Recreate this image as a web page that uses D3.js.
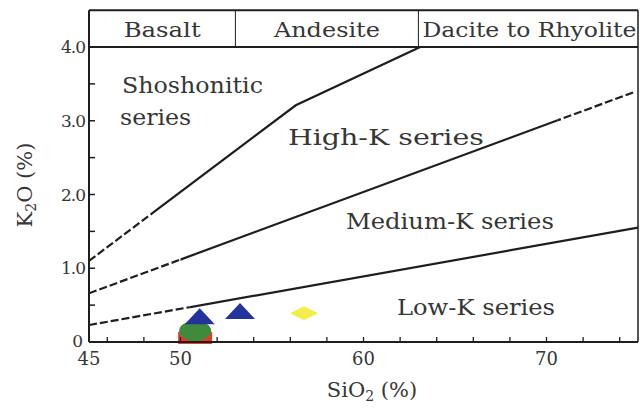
<!DOCTYPE html>
<html>
<head>
<meta charset="utf-8">
<script src="https://cdn.jsdelivr.net/npm/d3@7"></script>
<style>
  html, body { margin: 0; padding: 0; background: #fff; }
  svg { display: block; }
  text { font-family: "DejaVu Serif", "Liberation Serif", serif; fill: #363636; }
</style>
</head>
<body>
<svg id="chart" width="640" height="415"></svg>
<script>
// Rock-type bands along the SiO2 axis (header row)
const rockTypes = ["Basalt", "Andesite", "Dacite to Rhyolite"];
const rockBounds = [45, 53, 63, 75];

// Series boundary lines, as [SiO2, K2O] vertices
const shoshoniticLine = [[45, 1.10], [56.3, 3.21], [63.1, 4.0]];
const highKLine = [[45, 0.66], [74.8, 3.39]];
const mediumKLine = [[45, 0.23], [75, 1.55]];

// Series field names
const seriesNames = ["Shoshonitic", "series", "High-K series", "Medium-K series", "Low-K series"];

// Samples
const squareSamples = [[50.8, 0.055]];
const circleSamples = [[50.8, 0.15]];
const triangleSamples = [[51.05, 0.35], [53.25, 0.42]];
const diamondSamples = [[56.75, 0.39]];

// Tick values
const xMinorTicks = [46, 48, 50, 52, 54, 56, 58, 60, 62, 64, 66, 68, 70, 72, 74];
const xTickLabels = [45, 50, 60, 70];
const yMinorTicks = [0.5, 1.0, 1.5, 2.0, 2.5, 3.0, 3.5, 4.0];
const yTickLabels = ["0", "1.0", "2.0", "3.0", "4.0"];

const svg = d3.select("#chart");
const x = d3.scaleLinear().domain([45, 75]).range([89, 638]);
const y = d3.scaleLinear().domain([0, 4]).range([342, 47]);
const ink = "#1e1e1e";

// ---- sample markers (drawn under the frame) ----
const markers = svg.append("g");
markers.selectAll("rect.sq").data(squareSamples).join("rect")
  .attr("x", d => x(d[0]) - 17).attr("y", d => y(d[1]) - 6)
  .attr("width", 34).attr("height", 12)
  .attr("fill", "#e23a2e");
markers.selectAll("ellipse").data(circleSamples).join("ellipse")
  .attr("cx", d => x(d[0])).attr("cy", d => y(d[1]))
  .attr("rx", 16).attr("ry", 10)
  .attr("fill", "#3f8a3c");
markers.selectAll("path.tri").data(triangleSamples).join("path")
  .attr("d", "M0,-8L15,8L-15,8Z")
  .attr("transform", d => `translate(${x(d[0])},${y(d[1])})`)
  .attr("fill", "#23339c");
markers.selectAll("path.dia").data(diamondSamples).join("path")
  .attr("d", "M-14,0L0,-7L14,0L0,7Z")
  .attr("transform", d => `translate(${x(d[0])},${y(d[1])})`)
  .attr("fill", "#f4ee4c");

// ---- boundary lines: solid in the middle, dashed near the ends ----
const defs = svg.append("defs");
function clip(id, spans) {
  const c = defs.append("clipPath").attr("id", id);
  spans.forEach(s => c.append("rect")
    .attr("x", x(s[0])).attr("y", 0)
    .attr("width", x(s[1]) - x(s[0])).attr("height", 415));
}
const lineGen = d3.line().x(d => x(d[0])).y(d => y(d[1]));
const boundaries = [
  { pts: shoshoniticLine, dashed: [[45, 48.6]], solid: [[48.6, 75]] },
  { pts: highKLine, dashed: [[45, 50.0], [70.6, 75]], solid: [[50.0, 70.6]] },
  { pts: mediumKLine, dashed: [[45, 50.5]], solid: [[50.5, 75]] }
];
boundaries.forEach((b, i) => {
  clip("cd" + i, b.dashed);
  clip("cs" + i, b.solid);
  svg.append("path").attr("d", lineGen(b.pts))
    .attr("fill", "none").attr("stroke", ink).attr("stroke-width", 2.2)
    .attr("stroke-dasharray", "8,3").attr("clip-path", `url(#cd${i})`);
  svg.append("path").attr("d", lineGen(b.pts))
    .attr("fill", "none").attr("stroke", ink).attr("stroke-width", 2.2)
    .attr("clip-path", `url(#cs${i})`);
});

// ---- frame and header ----
const headerTop = y(4.5);
svg.append("line").attr("x1", x(45)).attr("x2", x(75)).attr("y1", headerTop).attr("y2", headerTop)
  .attr("stroke", ink).attr("stroke-width", 2);
svg.append("line").attr("x1", x(45)).attr("x2", x(75)).attr("y1", y(4)).attr("y2", y(4))
  .attr("stroke", ink).attr("stroke-width", 2);
svg.append("line").attr("x1", x(45)).attr("x2", x(45)).attr("y1", headerTop).attr("y2", y(0))
  .attr("stroke", ink).attr("stroke-width", 2);
svg.append("line").attr("x1", x(75)).attr("x2", x(75)).attr("y1", headerTop).attr("y2", y(0))
  .attr("stroke", ink).attr("stroke-width", 1.5);
svg.append("line").attr("x1", x(45)).attr("x2", x(75)).attr("y1", y(0)).attr("y2", y(0))
  .attr("stroke", ink).attr("stroke-width", 2);
svg.selectAll("line.div").data(rockBounds.slice(1, -1)).join("line")
  .attr("x1", d => x(d)).attr("x2", d => x(d)).attr("y1", headerTop).attr("y2", y(4))
  .attr("stroke", ink).attr("stroke-width", 1);

const headerWidths = [77, 106, 214];
svg.selectAll("text.rock").data(rockTypes).join("text")
  .attr("x", (d, i) => i === 2 ? x(rockBounds[2]) + 4 : (x(rockBounds[i]) + x(rockBounds[i + 1])) / 2)
  .attr("y", 37)
  .attr("text-anchor", (d, i) => i === 2 ? "start" : "middle")
  .attr("font-size", 20)
  .attr("textLength", (d, i) => headerWidths[i]).attr("lengthAdjust", "spacingAndGlyphs")
  .text(d => d);

// ---- ticks (pointing into the plot) ----
svg.selectAll("line.xt").data(xMinorTicks).join("line")
  .attr("x1", d => x(d)).attr("x2", d => x(d)).attr("y1", y(0)).attr("y2", y(0) - 5)
  .attr("stroke", ink).attr("stroke-width", 1.3);
svg.selectAll("line.yt").data(yMinorTicks).join("line")
  .attr("x1", x(45)).attr("x2", x(45) + 6).attr("y1", d => y(d)).attr("y2", d => y(d))
  .attr("stroke", ink).attr("stroke-width", 1.5);

svg.selectAll("text.xl").data(xTickLabels).join("text")
  .attr("x", d => x(d)).attr("y", 365).attr("text-anchor", "middle")
  .attr("font-size", 18).text(d => d);
svg.selectAll("text.yl").data(yTickLabels).join("text")
  .attr("x", (d, i) => i === 0 ? 82 : 85).attr("y", (d, i) => y(i) + (i === 0 ? 5 : 6))
  .attr("text-anchor", "end").attr("font-size", 17)
  .attr("letter-spacing", -1).text(d => d);

// ---- axis titles ----
const xt = svg.append("text").attr("x", 372).attr("y", 397).attr("text-anchor", "middle")
  .attr("font-size", 21);
xt.append("tspan").text("SiO");
xt.append("tspan").attr("font-size", 14).attr("dy", 4).text("2");
xt.append("tspan").attr("dy", -4).text(" (%)");

const yt = svg.append("text").attr("transform", "translate(32,185) rotate(-90)")
  .attr("text-anchor", "middle").attr("font-size", 21);
yt.append("tspan").text("K");
yt.append("tspan").attr("font-size", 14).attr("dy", 4).text("2");
yt.append("tspan").attr("dy", -4).text("O (%)");

// ---- series field labels ----
const fieldPlacement = [
  { sx: 46.8, k: 3.38, w: 141 },
  { sx: 46.7, k: 2.94, w: 71 },
  { sx: 55.87, k: 2.67, w: 196 },
  { sx: 59.04, k: 1.53, w: 208 },
  { sx: 61.83, k: 0.366, w: 158 }
];
svg.selectAll("text.field").data(seriesNames).join("text")
  .attr("x", (d, i) => x(fieldPlacement[i].sx)).attr("y", (d, i) => y(fieldPlacement[i].k))
  .attr("font-size", 22)
  .attr("textLength", (d, i) => fieldPlacement[i].w).attr("lengthAdjust", "spacingAndGlyphs")
  .text(d => d);
</script>
</body>
</html>
